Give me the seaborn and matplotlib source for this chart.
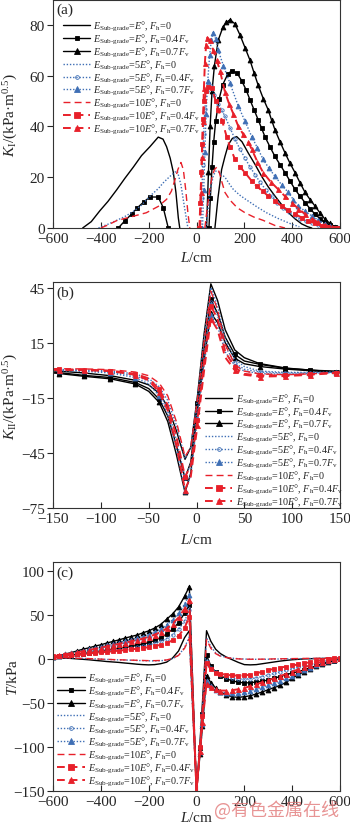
import numpy as np
import matplotlib
matplotlib.use("Agg")
import matplotlib.pyplot as plt
from matplotlib.lines import Line2D
import seaborn as sns

# ---------------- labels ----------------
series_labels = [
    r"$E_{\mathrm{Sub‐grade}}$=$E$°, $F_{\mathrm{h}}$=0",
    r"$E_{\mathrm{Sub‐grade}}$=$E$°, $F_{\mathrm{h}}$=0.4$F_{\mathrm{v}}$",
    r"$E_{\mathrm{Sub‐grade}}$=$E$°, $F_{\mathrm{h}}$=0.7$F_{\mathrm{v}}$",
    r"$E_{\mathrm{Sub‐grade}}$=5$E$°, $F_{\mathrm{h}}$=0",
    r"$E_{\mathrm{Sub‐grade}}$=5$E$°, $F_{\mathrm{h}}$=0.4$F_{\mathrm{v}}$",
    r"$E_{\mathrm{Sub‐grade}}$=5$E$°, $F_{\mathrm{h}}$=0.7$F_{\mathrm{v}}$",
    r"$E_{\mathrm{Sub‐grade}}$=10$E$°, $F_{\mathrm{h}}$=0",
    r"$E_{\mathrm{Sub‐grade}}$=10$E$°, $F_{\mathrm{h}}$=0.4$F_{\mathrm{v}}$",
    r"$E_{\mathrm{Sub‐grade}}$=10$E$°, $F_{\mathrm{h}}$=0.7$F_{\mathrm{v}}$",
]

# ---------------- panel (a): K_I ----------------
a_E0_F0_left_L = [-476, -440, -404, -370, -334, -300, -264, -230, -195, -160, -140, -125, -110, -97, -86, -76, -70]
a_E0_F0_left_K = [0, 2.5, 6.8, 10.5, 15, 19.5, 24, 28.5, 32, 35.8, 35, 32, 27.5, 22, 14, 4, 0]
a_E0_F0_right_L = [77, 90, 105, 119, 133, 150, 168, 190, 216, 245, 272, 300, 328, 356, 384, 412, 440, 465, 482]
a_E0_F0_right_K = [0, 12, 23, 28.2, 32.8, 35.3, 36, 34, 29.6, 25, 20.4, 16.2, 12.6, 9.2, 6.1, 3.6, 1.6, 0.5, 0]

a_E0_F04_left_L = [-327, -299, -271, -247, -220, -195, -160, -139, -118]
a_E0_F04_left_K = [0, 2.9, 5.5, 8, 10.3, 12.2, 12.2, 8, 0]
a_E0_F04_right_L = [52, 58, 65, 72, 80, 95, 110, 130, 147, 170, 189, 207, 224, 241, 258, 272, 286, 307, 328, 349,
                    370, 391, 412, 433, 454, 475, 495, 516, 537, 558, 579, 590]
a_E0_F04_right_K = [0, 12, 24, 34, 42, 51, 56.5, 60.5, 62, 61, 58, 54.5, 50.4, 46.5, 42.6, 39.3, 36, 32, 28.2, 25,
                    21.8, 18.5, 15.2, 12.5, 10, 7.6, 5.5, 3.7, 2.2, 1, 0.2, 0]

a_E0_F07_L = [42, 50, 57, 65, 75, 91, 110, 125, 140, 160, 182, 203, 224, 241, 258, 279, 300, 314, 328, 349,
              370, 391, 412, 433, 454, 475, 495, 516, 537, 558, 579, 590]
a_E0_F07_K = [0, 22, 40, 54, 64, 74, 79, 81, 82, 80.5, 76, 71, 66, 61, 56.2, 51, 46.5, 42.5, 38.7, 34,
              29.6, 25.5, 21.8, 17.8, 14, 11.2, 8.7, 6, 3.5, 1.8, 0.4, 0]

a_5E_F0_left_L = [-410, -370, -334, -300, -264, -230, -194, -160, -139, -115, -90, -80, -65, -50, -36]
a_5E_F0_left_K = [0, 1.5, 3, 4.5, 6.5, 9, 12.6, 15.5, 17.8, 20, 22, 22.4, 17, 8, 0]
a_5E_F0_right_L = [40, 50, 60, 70, 80, 90, 105, 119, 140, 154, 180, 210, 258, 293, 340, 398, 430]
a_5E_F0_right_K = [0, 9, 16, 20.5, 22.4, 22.3, 21, 20, 17, 15.2, 13, 11, 8, 6, 3.8, 1.5, 0.5]

a_5E_F04_L = [18, 22, 26, 30, 35, 42, 50, 60, 75, 91, 105, 119, 140, 161, 182, 203, 224, 245, 266, 290,
              314, 338, 362, 386, 410, 434, 458, 482, 510, 540, 570, 590]
a_5E_F04_K = [0, 12, 25, 37, 47, 54, 57, 56, 52.5, 49, 46.5, 44, 39.5, 35, 31, 27.5, 24, 21, 18, 15,
              12.5, 10, 8, 6.3, 4.8, 3.6, 2.6, 1.8, 1, 0.4, 0.1, 0]

a_5E_F07_L = [25, 30, 35, 40, 47, 55, 62, 70, 80, 91, 112, 140, 175, 203, 231, 255, 279, 303, 328, 356,
              384, 405, 426, 454, 482, 510, 537, 558, 579, 590]
a_5E_F07_K = [0, 15, 30, 45, 58, 68, 74, 77, 74.5, 70, 64, 57, 48, 42, 36, 31.5, 27, 23.5, 20.4, 17,
              14, 11.2, 8.7, 6.6, 4.8, 3, 1.6, 0.7, 0, 0]

a_10E_F0_left_L = [-400, -370, -334, -290, -250, -210, -194, -160, -125, -105, -90, -78, -65, -55, -45, -36, -28]
a_10E_F0_left_K = [0, 1.2, 2.9, 4, 5, 6, 6.8, 8.5, 11.3, 14.5, 19, 23, 25.8, 23, 15, 6, 0]
a_10E_F0_right_L = [35, 45, 55, 65, 75, 85, 95, 105, 119, 140, 170, 203, 240, 279, 328, 370]
a_10E_F0_right_K = [0, 8, 15, 20, 23, 24, 22, 18.5, 14, 11, 8, 6, 4.3, 3, 1, 0]

a_10E_F04_L = [12, 16, 20, 24, 28, 33, 40, 50, 66, 80, 91, 108, 126, 140, 161, 182, 203, 231, 252, 276,
               300, 328, 356, 384, 412, 440, 467, 495, 523, 551, 579, 590]
a_10E_F04_K = [0, 10, 22, 33, 43, 50, 54, 55.5, 55, 50, 46.5, 42, 36, 32, 27, 24, 21.8, 18.5, 16.5, 14.5,
               12.6, 10.5, 8.7, 7, 5.5, 4.1, 2.9, 1.8, 0.9, 0.3, 0, 0]

a_10E_F07_L = [15, 19, 23, 27, 31, 35, 40, 45, 55, 70, 85, 98, 119, 136, 154, 175, 195, 216, 231, 255,
               279, 310, 342, 370, 398, 426, 454, 482, 509, 537, 565, 590]
a_10E_F07_K = [0, 14, 28, 42, 55, 65, 72, 75, 74, 70, 66, 62, 53.6, 49, 45, 40, 37, 34, 31, 26,
               21.8, 18.2, 15.2, 12.5, 10, 7.6, 5.5, 3.7, 2.2, 1.1, 0.4, 0]

# ---------------- panel (b): K_II ----------------
L_b = [-150, -144, -118, -90, -64, -50, -39, -30, -21, -12, -6, 1, 8, 15, 22, 30, 40, 50, 66, 93, 119, 146, 150]
b_E0_F0 = [-0.3, -0.5, -1.5, -3, -5.5, -8, -12.5, -20, -33, -48.5, -42, -14, 20, 47, 38, 22, 11, 6.8, 3.6, 1.2, 0, -0.5, -0.5]
b_E0_F04 = [-1, -1.3, -2.8, -4, -6.7, -10, -15.8, -25, -41, -58.7, -50, -18, 12, 38.5, 31, 18, 8.6, 5, 3.2, 1, 0.1, -1, -1]
b_E0_F07 = [-1.5, -1.8, -3.3, -4.7, -7.5, -11.5, -17.5, -28, -46, -66.5, -56, -22, 6, 31, 26, 15, 6.5, 3.5, 2, 0.6, -0.3, -1.2, -1.3]
b_5E_F0 = [0.4, 0.4, 0.2, -0.5, -2, -4.5, -9, -16.5, -30, -48, -42, -15, 18, 45, 35, 17, 6, 2, -0.5, -1.2, -1.2, -1, -1]
b_5E_F04 = [0, 0, -0.2, -1, -3, -6, -12, -21, -38, -58.5, -51, -22, 8, 37, 30, 13, 4, 0.5, -1, -1.6, -1.4, -1.1, -1.1]
b_5E_F07 = [-0.3, -0.3, -0.6, -1.5, -4, -7.5, -14, -24, -43, -66, -57, -26, 3, 30, 24, 10, 2.5, -0.5, -1.8, -2.2, -1.8, -1.3, -1.2]
b_10E_F0 = [0.8, 0.8, 0.7, 0.3, -1, -3, -7, -14, -28, -47, -42, -16, 16, 43, 33, 14, 3, -0.5, -2, -2.5, -2, -1.3, -1.2]
b_10E_F04 = [0.5, 0.5, 0.3, -0.2, -2, -4.5, -10.4, -19, -36, -58, -52, -27, 5, 35, 28, 10, 1.5, -2, -2.8, -2.8, -2.2, -1.3, -1.2]
b_10E_F07 = [0.2, 0.2, 0, -0.5, -2.5, -5.5, -12, -22, -41, -65, -58, -30, 0, 28, 22, 7, 0, -2.5, -3.5, -3.2, -2.5, -1.5, -1.3]
b_marker_idx = [1, 2, 3, 4, 6, 9, 11, 13, 16, 18, 19, 20, 21]

# ---------------- panel (c): T ----------------
L_c = [-600, -575, -550, -525, -500, -475, -450, -425, -400, -375, -350, -325, -300, -275, -250, -225, -200, -175,
       -150, -125, -100, -75, -50, -30, 0, 15, 25, 42, 60, 80, 100, 125, 150, 175, 200, 225, 250, 275, 300, 325,
       350, 375, 400, 425, 450, 475, 500, 525, 550, 575, 600]
c_E0_F0 = [2, 1.5, 1, 0.5, 0, -0.5, -1, -1.7, -2.3, -3, -3.5, -4, -4.7, -5.3, -6, -6.5, -6.8, -6.5, -5.5, -3.7, 1, 9, 24, 32,
           -150, -93, -49, 32, 20, 11,
           6, 2, -1, -4, -6.5, -6.8, -6.5, -5.5, -4.5, -3.5, -2.5, -1.7, -1, -0.5, 0, 0.2, 0.4, 0.5, 0.6, 0.7, 0.8]
c_E0_F04 = [2, 2.8, 3.6, 4.4, 5.2, 6, 7, 8, 9, 10, 11, 12, 13, 14, 15.3, 16.7, 18.5, 21, 24, 28, 34, 41, 52, 61,
            -150, -101, -63, 4, -8, -15,
            -19, -22.5, -25, -26.5, -27.3, -27, -26.3, -25.3, -24, -22, -20, -18, -16, -14.5, -12.5, -10, -8, -6, -4, -2, 0]
c_E0_F07 = [2, 3.5, 5.5, 7, 9, 11, 12.5, 14.5, 16, 18, 19.8, 21.5, 23.5, 25.3, 27, 29.5, 31.8, 35, 39, 45, 51, 59, 71, 82,
            -150, -108, -76, -19, -27, -33,
            -37.5, -41, -43.2, -43.6, -43, -41.8, -39.8, -37.5, -35, -32.5, -30, -26.5, -22, -18, -14.5, -11, -8.5, -6, -3.5, -1.5, 0.5]
c_5E_F0 = [2, 1.7, 1.4, 1.1, 0.8, 0.5, 0.3, 0, -0.3, -0.6, -0.9, -1.1, -1.3, -1.5, -1.8, -2, -2.2, -2.3, -2.1, -1.5, 0.2, 4, 13, 25,
           -150, -96, -55, 24, 14, 7,
           3.5, 1.8, 0.8, 0.2, -0.2, -0.4, -0.5, -0.5, -0.4, -0.3, -0.1, 0, 0.1, 0.2, 0.3, 0.4, 0.5, 0.6, 0.6, 0.7, 0.8]
c_5E_F04 = [2.5, 3.1, 3.8, 4.4, 5.1, 5.8, 6.6, 7.4, 8.2, 9, 9.8, 10.6, 11.5, 12.4, 13.4, 14.5, 15.9, 17.8, 20, 23, 27.5, 33.5, 43, 55,
            -150, -100, -64, -2, -10, -15,
            -18.5, -20.5, -22, -22.8, -23, -22.5, -21.5, -20, -18.3, -16.5, -14.7, -13, -11.3, -9.7, -8, -6.4, -4.8, -3.2, -1.7, -0.3, 0.8]
c_5E_F07 = [2.5, 3.7, 5, 6.3, 7.7, 9.2, 10.7, 12.2, 13.8, 15.4, 17, 18.6, 20.2, 21.8, 23.5, 25.3, 27.5, 30.2, 33.8, 38.5, 44.5, 52, 62, 73,
            -150, -106, -74, -25, -31, -35,
            -37.5, -38.5, -38.8, -38.5, -37.5, -36, -34.3, -32.3, -30, -27.5, -25, -22, -19, -16, -13, -10, -7.3, -4.8, -2.6, -0.8, 0.5]
c_10E_F0 = [2, 1.7, 1.4, 1.1, 0.8, 0.5, 0.3, 0, -0.3, -0.5, -0.8, -1, -1.2, -1.4, -1.6, -1.8, -2, -2, -1.8, -1.2, 0.5, 4, 12, 23,
            -150, -97, -57, 22, 12, 6,
            3, 1.5, 0.5, 0, -0.3, -0.4, -0.4, -0.3, -0.2, 0, 0.1, 0.2, 0.3, 0.4, 0.5, 0.6, 0.6, 0.7, 0.7, 0.8, 0.8]
c_10E_F04 = [3, 3.5, 4, 4.5, 5, 5.5, 6.2, 6.8, 7.4, 8, 8.6, 9.3, 10, 10.7, 11.5, 12.3, 13.3, 14.5, 16, 18, 21, 26, 35, 48,
             -150, -100, -65, -5, -12, -15.5,
             -17, -18, -18.8, -19, -18.8, -18, -16.5, -14.5, -12.8, -11.2, -10, -8.7, -7.5, -6.3, -5, -3.8, -2.6, -1.2, 0, 0.5, 1]
c_10E_F07 = [3, 4, 5, 6.2, 7.4, 8.6, 10, 11.4, 12.8, 14.2, 15.6, 17, 18.4, 19.8, 21.4, 23, 25, 27.5, 30.5, 34.5, 40, 47, 57, 67,
             -150, -105, -72, -28, -32, -34.5,
             -36, -36, -35.5, -34.5, -33, -31, -29, -26.5, -24.3, -22, -19.5, -17, -14.5, -12, -9.5, -7.3, -5.2, -3.4, -1.7, -0.5, 0.5]
c_marker_idx = [i for i in range(len(L_c)) if L_c[i] != 0]

# ---------------- styling ----------------
sns.set_style("ticks")
plt.rcParams["font.family"] = ["Liberation Serif", "DejaVu Serif"]
plt.rcParams["mathtext.fontset"] = "custom"
plt.rcParams["mathtext.rm"] = "Liberation Serif"
plt.rcParams["mathtext.it"] = "Liberation Serif:italic"
plt.rcParams["mathtext.bf"] = "Liberation Serif:bold"
plt.rcParams["axes.unicode_minus"] = True

BLUE = "#3f6fb5"
RED = "#e8202a"
DOT = (0, (1, 1.3))
DASH = (0, (5, 3))
DASH2 = (0, (4, 2.5))
styles = [
    dict(color="black", ls="-", lw=1.0, marker=None, ms=0, mfc="black"),
    dict(color="black", ls="-", lw=1.0, marker="s", ms=3.0, mfc="black"),
    dict(color="black", ls="-", lw=1.0, marker="^", ms=3.5, mfc="black"),
    dict(color=BLUE, ls=DOT, lw=1.0, marker=None, ms=0, mfc=BLUE),
    dict(color=BLUE, ls=DOT, lw=1.0, marker="o", ms=2.4, mfc="none"),
    dict(color=BLUE, ls=DOT, lw=1.0, marker="^", ms=3.5, mfc=BLUE),
    dict(color=RED, ls=DASH, lw=1.0, marker=None, ms=0, mfc=RED),
    dict(color=RED, ls=DASH2, lw=1.4, marker="s", ms=3.4, mfc=RED),
    dict(color=RED, ls=DASH2, lw=1.4, marker="^", ms=3.6, mfc=RED),
]


def draw(ax, xs, ys, st, markevery=None):
    kw = dict(color=st["color"], linestyle=st["ls"], linewidth=st["lw"])
    if st["marker"] is not None:
        kw.update(marker=st["marker"], markersize=st["ms"], markerfacecolor=st["mfc"],
                  markeredgecolor=st["color"], markeredgewidth=0.6)
        if markevery is not None:
            kw["markevery"] = markevery
    sns.lineplot(x=np.asarray(xs, float), y=np.asarray(ys, float), ax=ax, estimator=None,
                 sort=False, errorbar=None, legend=False, **kw)


def proxies():
    hs = []
    for st in styles:
        hs.append(Line2D([], [], color=st["color"], linestyle=st["ls"], linewidth=st["lw"],
                         marker=st["marker"] if st["marker"] else "None",
                         markersize=st["ms"] + 0.3, markerfacecolor=st["mfc"],
                         markeredgecolor=st["color"], markeredgewidth=0.6))
    return hs


def style_axes(ax):
    for s in ax.spines.values():
        s.set_linewidth(0.8)
        s.set_color("#333333")
    ax.tick_params(axis="x", direction="in", length=4, width=0.8, labelsize=11, pad=3)
    ax.tick_params(axis="y", direction="out", length=4, width=0.8, labelsize=11, pad=2)


fig = plt.figure(figsize=(3.5, 8.28), dpi=100)
W = 287 / 350
axA = fig.add_axes([53 / 350, 1 - 229 / 828, W, 228.5 / 828])
axB = fig.add_axes([53 / 350, 1 - 509 / 828, W, 226 / 828])
axC = fig.add_axes([53 / 350, 1 - 792 / 828, W, 229 / 828])

# panel (a)
a_series = [
    [(a_E0_F0_left_L, a_E0_F0_left_K), (a_E0_F0_right_L, a_E0_F0_right_K)],
    [(a_E0_F04_left_L, a_E0_F04_left_K), (a_E0_F04_right_L, a_E0_F04_right_K)],
    [(a_E0_F07_L, a_E0_F07_K)],
    [(a_5E_F0_left_L, a_5E_F0_left_K), (a_5E_F0_right_L, a_5E_F0_right_K)],
    [(a_5E_F04_L, a_5E_F04_K)],
    [(a_5E_F07_L, a_5E_F07_K)],
    [(a_10E_F0_left_L, a_10E_F0_left_K), (a_10E_F0_right_L, a_10E_F0_right_K)],
    [(a_10E_F04_L, a_10E_F04_K)],
    [(a_10E_F07_L, a_10E_F07_K)],
]
for st, segs in zip(styles, a_series):
    for xs, ys in segs:
        draw(axA, xs, ys, st)
axA.set_xlim(-600, 600)
axA.set_ylim(0, 90)
axA.set_xticks([-600, -400, -200, 0, 200, 400, 600])
axA.set_yticks([0, 20, 40, 60, 80])

# panel (b)
b_series = [b_E0_F0, b_E0_F04, b_E0_F07, b_5E_F0, b_5E_F04, b_5E_F07, b_10E_F0, b_10E_F04, b_10E_F07]
for st, ys in zip(styles, b_series):
    draw(axB, L_b, ys, st, markevery=b_marker_idx)
axB.set_xlim(-150, 150)
axB.set_ylim(-75, 48)
axB.set_xticks([-150, -100, -50, 0, 50, 100, 150])
axB.set_yticks([45, 15, -15, -45, -75])

# panel (c)
c_series = [c_E0_F0, c_E0_F04, c_E0_F07, c_5E_F0, c_5E_F04, c_5E_F07, c_10E_F0, c_10E_F04, c_10E_F07]
for st, ys in zip(styles, c_series):
    draw(axC, L_c, ys, st, markevery=c_marker_idx)
axC.set_xlim(-600, 600)
axC.set_ylim(-150, 110)
axC.set_xticks([-600, -400, -200, 0, 200, 400, 600])
axC.set_yticks([-150, -100, -50, 0, 50, 100])

leg_kw = dict(frameon=False, fontsize=7.3, handlelength=2.7, handletextpad=0.3,
              labelspacing=-0.12, borderpad=0.0, borderaxespad=0.0, numpoints=1)
axA.legend(proxies(), series_labels, loc="upper left", bbox_to_anchor=(0.035, 0.915), **leg_kw)
axB.legend(proxies(), series_labels, loc="upper left", bbox_to_anchor=(0.53, 0.515), **leg_kw)
axC.legend(proxies(), series_labels, loc="upper left", bbox_to_anchor=(0.015, 0.525), **leg_kw)

ylabels = [r"$K_{\mathrm{I}}$/(kPa·m$^{0.5}$)", r"$K_{\mathrm{II}}$/(kPa·m$^{0.5}$)", r"$T$/kPa"]
tags = ["(a)", "(b)", "(c)"]
for ax, yl, tg in zip([axA, axB, axC], ylabels, tags):
    style_axes(ax)
    ax.set_xlabel(r"$L$/cm", fontsize=11)
    ax.set_ylabel(yl, fontsize=11)
    ax.yaxis.set_label_coords(-0.115, 0.5)
    ax.text(0.012, 0.985, tg, transform=ax.transAxes, ha="left", va="top", fontsize=11)

axA.xaxis.set_label_coords(0.5, -0.095)
axB.xaxis.set_label_coords(0.5, -0.105)
axC.xaxis.set_label_coords(0.5, -0.085)

fig.text(0.79, 0.021, "@有色金属在线", fontsize=13, color="#e07070", alpha=0.75,
         ha="center", va="center", family=["Noto Sans CJK SC", "DejaVu Sans"])

fig.savefig("out.png", dpi=100)
